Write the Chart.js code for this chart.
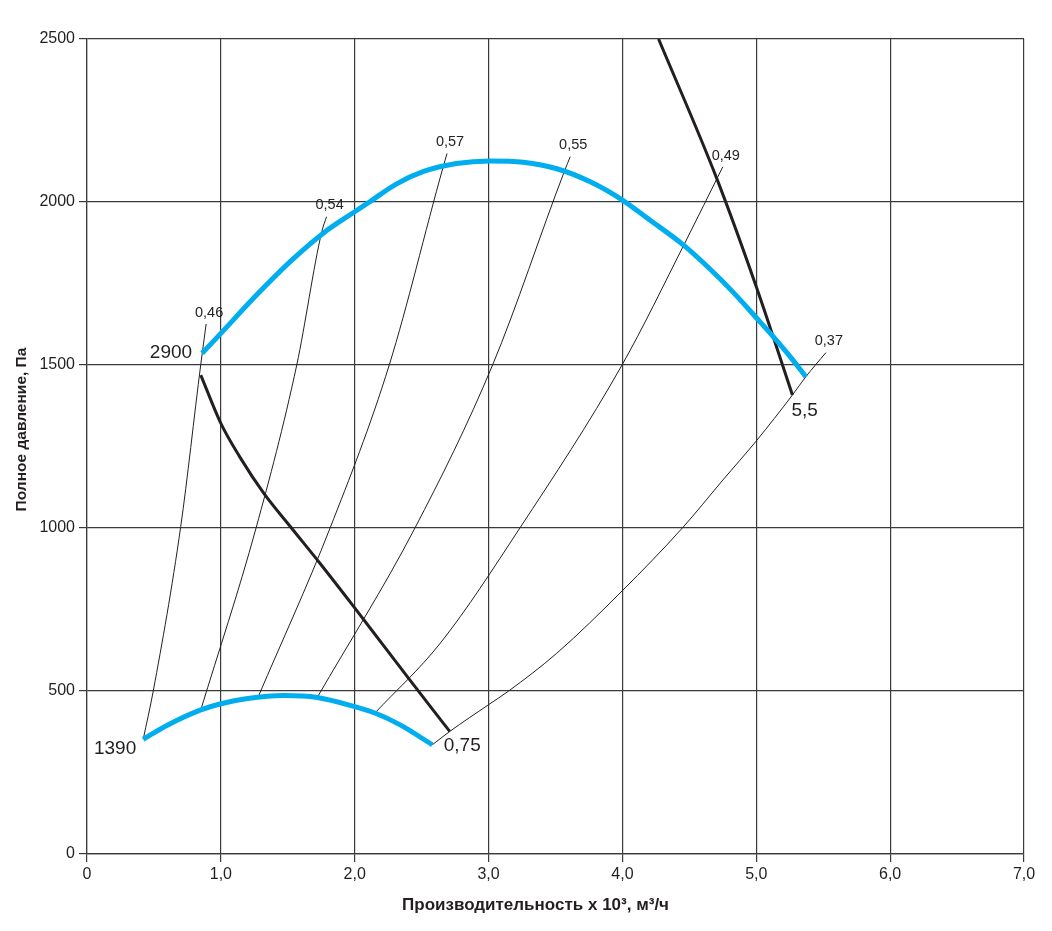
<!DOCTYPE html>
<html lang="ru">
<head>
<meta charset="UTF-8">
<title>Аэродинамическая характеристика</title>
<script src="https://cdn.jsdelivr.net/npm/chart.js@4.4.1/dist/chart.umd.min.js"></script>
<style>
    html, body { margin: 0; padding: 0; background: #fff; }
    #wrap { width: 1052px; height: 931px; }
</style>
</head>
<body>
<div id="wrap"><canvas id="fanChart"></canvas></div>
<script>
// Оси
const xTicks = [0, 1, 2, 3, 4, 5, 6, 7];
const yTicks = [0, 500, 1000, 1500, 2000, 2500];
const xTitle = 'Производительность x 10³, м³/ч';
const yTitle = 'Полное давление, Па';

// Характеристики вентилятора при 2900 и 1390 об/мин [Q, P]
const curve2900 = [
    [0.86, 1536], [1.0, 1597], [1.27, 1716], [1.52, 1818], [1.77, 1906], [2.0, 1970],
    [2.11, 2000], [2.31, 2055], [2.51, 2093], [2.76, 2118], [3.01, 2126], [3.26, 2122],
    [3.51, 2102], [3.76, 2062], [4.0, 2006], [4.2, 1946], [4.45, 1870], [4.65, 1796],
    [4.83, 1722], [5.0, 1645], [5.12, 1590], [5.25, 1527], [5.37, 1464]
];
const curve1390 = [
    [0.42, 352], [0.6, 395], [0.85, 442], [1.0, 461], [1.2, 477], [1.47, 486],
    [1.72, 480], [2.0, 452], [2.16, 431], [2.34, 396], [2.58, 335]
];

// Мощность двигателя, кВт
const power075 = [
    [0.85, 1469], [1.0, 1321], [1.14, 1219], [1.32, 1107], [1.52, 1004], [1.74, 892],
    [2.0, 755], [2.21, 642], [2.41, 535], [2.56, 455], [2.71, 376]
];
const power55 = [[4.27, 2500], [4.70, 2077], [5.0, 1740], [5.27, 1408]];

// Линии КПД
const eff046 = [[0.42, 352], [0.495, 500], [0.70, 1004], [0.85, 1502], [0.89, 1626]];
const eff054 = [[0.85, 442], [1.263, 1000], [1.567, 1500], [1.754, 1909], [1.79, 1955]];
const eff057 = [[1.28, 483], [1.816, 1000], [2.258, 1500], [2.661, 2108], [2.69, 2149]];
const eff055 = [[1.72, 480], [2.45, 1000], [3.03, 1500], [3.57, 2098], [3.61, 2139]];
const eff049 = [[2.15, 432], [2.64, 647], [3.234, 1000], [3.997, 1500], [4.465, 1873], [4.75, 2108]];
const eff037 = [[2.58, 335], [2.71, 376], [3.0, 458], [3.15, 500], [3.51, 616], [4.0, 808], [4.45, 1001],
    [4.75, 1147], [5.0, 1267], [5.27, 1408], [5.37, 1464], [5.52, 1538]];

const effLabels = ['0,46', '0,54', '0,57', '0,55', '0,49', '0,37'];
const effLines = [eff046, eff054, eff057, eff055, eff049, eff037];

const FONT = "'Liberation Sans', Arial, sans-serif";
const INK = '#231f20';
const GRID = '#3a3a3a';
const BLUE = '#00aeef';

function toPoints(arr) {
    return arr.map(p => ({ x: p[0], y: p[1] }));
}

// Подписи у концов кривых и названия осей
const curveLabels = {
    id: 'curveLabels',
    afterDatasetsDraw(chart) {
        const ctx = chart.ctx;
        const area = chart.chartArea;
        const sx = chart.scales.x;
        const sy = chart.scales.y;
        const px = p => sx.getPixelForValue(p[0]);
        const py = p => sy.getPixelForValue(p[1]);

        ctx.save();
        ctx.fillStyle = INK;

        // КПД
        ctx.font = '14.5px ' + FONT;
        ctx.textAlign = 'center';
        ctx.textBaseline = 'bottom';
        effLines.forEach((line, i) => {
            const end = line[line.length - 1];
            ctx.fillText(effLabels[i], px(end) + 3, py(end) - 4);
        });

        // Частота вращения
        ctx.font = '19px ' + FONT;
        ctx.textBaseline = 'middle';
        ctx.textAlign = 'right';
        ctx.fillText('2900', px(curve2900[0]) - 10, py(curve2900[0]));
        ctx.fillText('1390', px(curve1390[0]) - 7, py(curve1390[0]) + 10);

        // Мощность
        ctx.textAlign = 'left';
        const e075 = power075[power075.length - 1];
        ctx.fillText('0,75', px(e075) - 6, py(e075) + 14);
        const e55 = power55[power55.length - 1];
        ctx.fillText('5,5', px(e55) - 1, py(e55) + 16);

        // Названия осей
        ctx.textAlign = 'center';
        ctx.font = 'bold 17px ' + FONT;
        ctx.fillText(xTitle, (area.left + area.right) / 2 - 20, area.bottom + 51);
        ctx.save();
        ctx.translate(22, (area.top + area.bottom) / 2 - 17);
        ctx.rotate(-Math.PI / 2);
        ctx.font = 'bold 15.5px ' + FONT;
        ctx.fillText(yTitle, 0, 0);
        ctx.restore();

        ctx.restore();
    }
};

function renderFanChart() {
    const ctx = document.getElementById('fanChart').getContext('2d');

    const datasets = [
        { data: toPoints(curve2900), borderColor: BLUE, borderWidth: 5 },
        { data: toPoints(curve1390), borderColor: BLUE, borderWidth: 5 },
        { data: toPoints(power075), borderColor: INK, borderWidth: 3 },
        { data: toPoints(power55), borderColor: INK, borderWidth: 3 }
    ];
    effLines.forEach(line => {
        datasets.push({ data: toPoints(line), borderColor: INK, borderWidth: 1 });
    });
    datasets.forEach(d => {
        d.showLine = true;
        d.cubicInterpolationMode = 'monotone';
        d.pointRadius = 0;
        d.pointHoverRadius = 0;
        d.borderCapStyle = 'butt';
        d.borderJoinStyle = 'round';
    });

    new Chart(ctx, {
        type: 'scatter',
        data: { datasets: datasets },
        options: {
            responsive: true,
            maintainAspectRatio: false,
            animation: false,
            events: [],
            layout: { padding: { left: 0, top: 39, right: 28, bottom: 0 } },
            plugins: {
                legend: { display: false },
                tooltip: { enabled: false }
            },
            scales: {
                x: {
                    type: 'linear',
                    min: 0,
                    max: 7,
                    afterBuildTicks: s => { s.ticks = xTicks.map(v => ({ value: v })); },
                    afterFit: s => { s.height = 77; },
                    grid: { color: GRID, lineWidth: 1.2, tickLength: 8 },
                    border: { color: GRID, width: 1.2 },
                    ticks: {
                        color: INK,
                        padding: 3,
                        font: { family: FONT, size: 16 },
                        callback: v => (v === 0 ? '0' : v.toFixed(1).replace('.', ','))
                    }
                },
                y: {
                    type: 'linear',
                    min: 0,
                    max: 2500,
                    afterBuildTicks: s => { s.ticks = yTicks.map(v => ({ value: v })); },
                    afterFit: s => { s.width = 87; },
                    grid: { color: GRID, lineWidth: 1.2, tickLength: 8 },
                    border: { color: GRID, width: 1.2 },
                    ticks: {
                        color: INK,
                        padding: 4,
                        font: { family: FONT, size: 16 },
                        callback: v => String(v)
                    }
                }
            }
        },
        plugins: [curveLabels]
    });
}

document.addEventListener('DOMContentLoaded', renderFanChart);
</script>
</body>
</html>
